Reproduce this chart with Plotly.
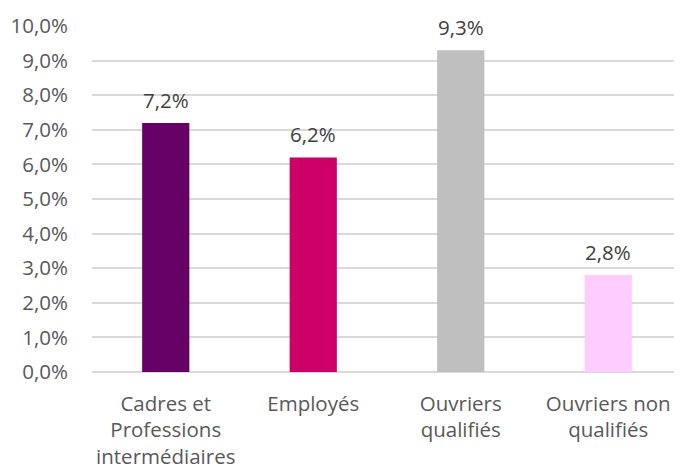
import plotly.graph_objects as go

categories = ["Cadres et<br>Professions<br>intermédiaires", "Employés", "Ouvriers<br>qualifiés", "Ouvriers non<br>qualifiés"]
values = [7.2, 6.2, 9.3, 2.8]
colors = ["#660066", "#CC0066", "#BFBFBF", "#FFCCFF"]
tick_vals = [0, 1, 2, 3, 4, 5, 6, 7, 8, 9, 10]
tick_text = [f"{v:.1f}%".replace(".", ",") for v in tick_vals]
labels = [f"{v:.1f}%".replace(".", ",") for v in values]

FONT = "Open Sans"
FS = 20.5

fig = go.Figure()
fig.add_trace(go.Bar(
    x=categories, y=values, marker=dict(color=colors, line=dict(width=0)),
    width=0.32, hoverinfo="skip",
))
for c, v, t in zip(categories, values, labels):
    fig.add_annotation(x=c, y=v, text=t, showarrow=False, yanchor="middle",
                       yshift=23, font=dict(family=FONT, size=FS, color="#404040"))

fig.update_layout(
    width=674, height=462,
    margin=dict(l=84, r=0, t=18, b=98),
    plot_bgcolor="white", paper_bgcolor="white",
    showlegend=False,
    font=dict(family=FONT, size=FS, color="#595959"),
    xaxis=dict(showgrid=False, showline=False, ticks="", automargin=False,
               tickfont=dict(size=FS, color="#595959"), ticklabelstandoff=17),
    yaxis=dict(range=[0, 10], tickvals=tick_vals, ticktext=tick_text, showgrid=True,
               gridcolor="#D9D9D9", gridwidth=1.5, zeroline=True, zerolinecolor="#D9D9D9",
               zerolinewidth=1.5, showline=False, ticks="", ticklabelstandoff=23,
               automargin=False, tickfont=dict(size=FS, color="#595959")),
)
fig.write_html("out.html")
